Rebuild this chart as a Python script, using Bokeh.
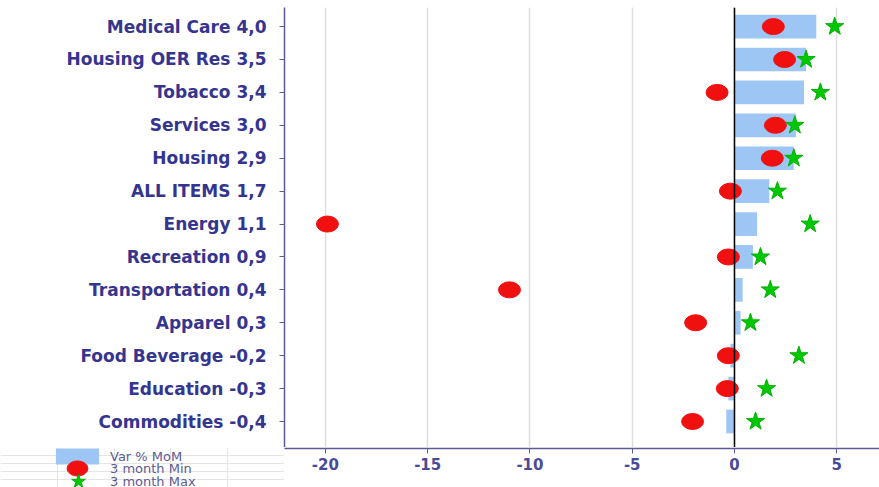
from bokeh.plotting import figure
from bokeh.models import Range1d, FixedTicker, Span, Legend, LegendItem, ColumnDataSource, Grid
from bokeh.layouts import column, row
from bokeh.embed import file_html
from bokeh.resources import INLINE

categories = ["Medical Care", "Housing OER Res", "Tobacco", "Services", "Housing",
              "ALL ITEMS", "Energy", "Recreation", "Transportation", "Apparel",
              "Food Beverage", "Education", "Commodities"]
var_mom = [4.0, 3.5, 3.4, 3.0, 2.9, 1.7, 1.1, 0.9, 0.4, 0.3, -0.2, -0.3, -0.4]
min_3m = [1.9, 2.45, -0.85, 2.0, 1.85, -0.2, -19.9, -0.3, -11.0, -1.9, -0.3, -0.35, -2.05]
max_3m = [4.9, 3.5, 4.2, 2.95, 2.9, 2.1, 3.7, 1.27, 1.75, 0.78, 3.15, 1.57, 1.03]
x_ticks = [-20, -15, -10, -5, 0, 5]
series_names = ["Var % MoM", "3 month Min", "3 month Max"]

n = len(categories)
ypos = [n - 1 - i for i in range(n)]
labels = {ypos[i]: f"{categories[i]} {var_mom[i]:.1f}".replace(".", ",") for i in range(n)}
src = ColumnDataSource(dict(pos=ypos, mom=var_mom, mn=min_3m, mx=max_3m))

NAVY = "#35358f"
AXIS = "#5a5a95"
BAR = dict(fill_color="#9dc6f5", line_color=None)
DOT = dict(width=22, height=16, width_units="screen", height_units="screen",
           fill_color="#f01010", line_color="#f01010")
STAR = dict(marker="star", fill_color="#00c800", line_color="#00b000")

x_range = Range1d(-22.0, 7.09)

# ---- main chart (frame + category axis) ----
p = figure(width=879, height=447, output_backend="svg", toolbar_location=None,
           x_range=x_range, y_range=Range1d(-0.79, n - 1 + 0.58), x_axis_location=None,
           min_border_left=284, min_border_right=0, min_border_top=7, min_border_bottom=0)
p.outline_line_color = None
p.add_layout(Grid(dimension=0, ticker=FixedTicker(ticks=x_ticks),
                  grid_line_color="#dedede", grid_line_width=1.5))

p.hbar(y="pos", left=0, right="mom", height=0.72, source=src, **BAR)
p.add_layout(Span(location=0, dimension="height", line_color="black", line_width=1.5))
p.ellipse(x="mn", y="pos", source=src, **DOT)
p.scatter(x="mx", y="pos", size=19, source=src, **STAR)

p.yaxis.ticker = FixedTicker(ticks=ypos)
p.yaxis.major_label_overrides = labels
p.yaxis.major_label_text_font = "DejaVu Sans"
p.yaxis.major_label_text_font_style = "bold"
p.yaxis.major_label_text_font_size = "17px"
p.yaxis.major_label_text_color = NAVY
p.yaxis.major_tick_out = 5
p.yaxis.major_tick_in = 0
p.yaxis.minor_tick_line_color = None
p.yaxis.major_label_standoff = 13
p.yaxis.axis_line_color = AXIS
p.yaxis.axis_line_width = 1.5
p.yaxis.major_tick_line_color = AXIS
p.ygrid.grid_line_color = None

# ---- value axis strip under the frame ----
ax = figure(width=595, height=40, output_backend="svg", toolbar_location=None,
            x_range=x_range, y_range=Range1d(0, 1), y_axis_location=None,
            min_border_left=0, min_border_right=0, min_border_top=0, min_border_bottom=39)
ax.outline_line_color = None
ax.xgrid.visible = False
ax.ygrid.visible = False
ax.xaxis.ticker = FixedTicker(ticks=x_ticks)
ax.xaxis.major_label_overrides = {t: str(t) for t in x_ticks}
ax.xaxis.major_label_text_font = "DejaVu Sans"
ax.xaxis.major_label_text_font_style = "bold"
ax.xaxis.major_label_text_font_size = "15px"
ax.xaxis.major_label_text_color = "#4a4a9a"
ax.xaxis.major_tick_out = 5
ax.xaxis.major_tick_in = 0
ax.xaxis.minor_tick_line_color = None
ax.xaxis.major_label_standoff = 4
ax.xaxis.axis_line_color = AXIS
ax.xaxis.axis_line_width = 1.5
ax.xaxis.major_tick_line_color = AXIS

# ---- legend strip under the category labels (own column, so its frame is not aligned) ----
leg = figure(width=284, height=40, output_backend="svg", toolbar_location=None,
             x_range=Range1d(100, 101), y_range=Range1d(100, 101),
             x_axis_location=None, y_axis_location=None, min_border=0,
             min_border_left=0, min_border_right=0, min_border_top=0, min_border_bottom=0)
leg.outline_line_color = None
lb = leg.hbar(y="pos", left=0, right="mom", height=0.72, source=src, **BAR)
lm = leg.ellipse(x="mn", y="pos", source=src, **DOT)
ls = leg.scatter(x="mx", y="pos", size=19, source=src, **STAR)

common = dict(spacing=0, padding=0, margin=0, label_height=14,
              label_text_font="DejaVu Sans", label_text_font_size="13px",
              label_text_color="#5c5c94", border_line_color=None, background_fill_alpha=0)
leg.add_layout(Legend(items=[LegendItem(label=series_names[0], renderers=[lb])],
                      location=(50, 21), glyph_width=54, glyph_height=20, label_standoff=6, **common))
leg.add_layout(Legend(items=[LegendItem(label=series_names[1], renderers=[lm])],
                      location=(56, 6), glyph_width=42, glyph_height=26, label_standoff=12, **common))
leg.add_layout(Legend(items=[LegendItem(label=series_names[2], renderers=[ls])],
                      location=(57, -12), glyph_width=42, glyph_height=36, label_standoff=11, **common))

root = column(p, row(column(leg), ax))
open("out.html", "w").write(file_html(root, INLINE))
